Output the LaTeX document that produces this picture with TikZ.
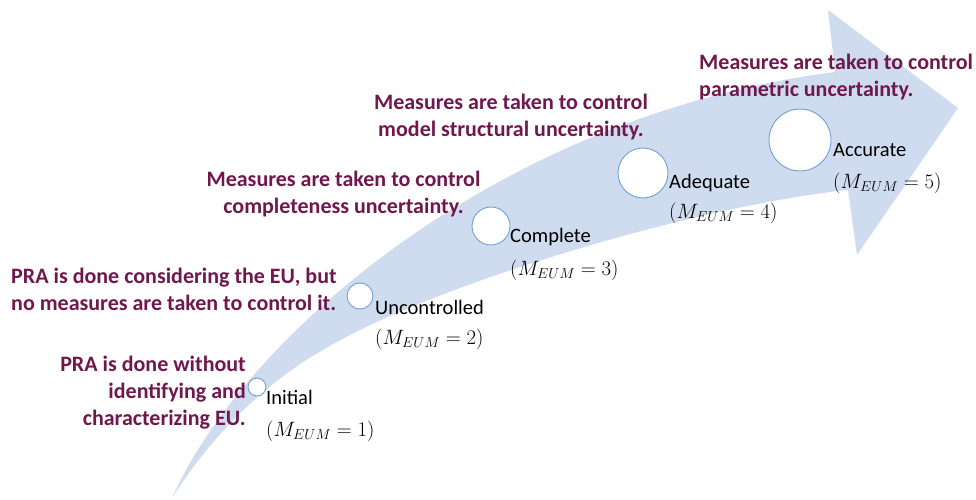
\documentclass[tikz,border=0pt]{standalone}
\usepackage{fontspec}
\setmainfont{Carlito}
\definecolor{bandblue}{RGB}{207,219,238}
\definecolor{ringblue}{RGB}{110,160,215}
\definecolor{purpletext}{RGB}{112,24,78}
\begin{document}
\begin{tikzpicture}[x=1pt,y=-1pt,
  note/.style={font=\bfseries\fontsize{22}{27}\selectfont,text=purpletext,inner sep=0pt},
  lvl/.style={font=\fontsize{20.5}{24}\selectfont,anchor=west,inner sep=0pt},
  mth/.style={font=\fontsize{20}{24}\selectfont,anchor=west,inner sep=0pt},
  ring/.style={circle,draw=ringblue,fill=white,line width=0.9pt,inner sep=0pt}]
\useasboundingbox (0,0) rectangle (976,500);
% curved arrow
\fill[bandblue] (172,498) .. controls (245,335) and (500,115) .. (835,72)
  -- (828,10) -- (958,108) -- (857,255) -- (848,190)
  .. controls (700,205) and (430,285) .. (323,350)
  .. controls (270,380) and (215,430) .. (172,498) -- cycle;
% circles
\node[ring,minimum size=18pt] (c1) at (257,387) {};
\node[ring,minimum size=26pt] (c2) at (360,296) {};
\node[ring,minimum size=38pt] (c3) at (491,226) {};
\node[ring,minimum size=50pt] (c4) at (643,173) {};
\node[ring,minimum size=62pt] (c5) at (800,140) {};
% level labels
\node[lvl] (l1) at (266,397) {Initial};
\node[mth] (m1) at (266,431) {$(M_{EUM}=1)$};
\node[lvl] (l2) at (375,307) {Uncontrolled};
\node[mth] (m2) at (375,339) {$(M_{EUM}=2)$};
\node[lvl] (l3) at (510,237) {Complete};
\node[mth] (m3) at (510,270) {$(M_{EUM}=3)$};
\node[lvl] (l4) at (669,183) {Adequate};
\node[mth] (m4) at (669,213) {$(M_{EUM}=4)$};
\node[lvl] (l5) at (833,150) {Accurate};
\node[mth] (m5) at (833,183) {$(M_{EUM}=5)$};
% descriptions
\node[note,align=right,anchor=east] (n1) at (246,393) {PRA is done without\\identifying and\\characterizing EU.};
\node[note,align=left,anchor=west] (n2) at (11,289) {PRA is done considering the EU, but\\no measures are taken to control it.};
\node[note,align=center] (n3) at (343.5,194) {Measures are taken to control\\completeness uncertainty.};
\node[note,align=center] (n4) at (511,117) {Measures are taken to control\\model structural uncertainty.};
\node[note,align=left,anchor=west] (n5) at (699,77) {Measures are taken to control\\parametric uncertainty.};
\end{tikzpicture}
\end{document}
